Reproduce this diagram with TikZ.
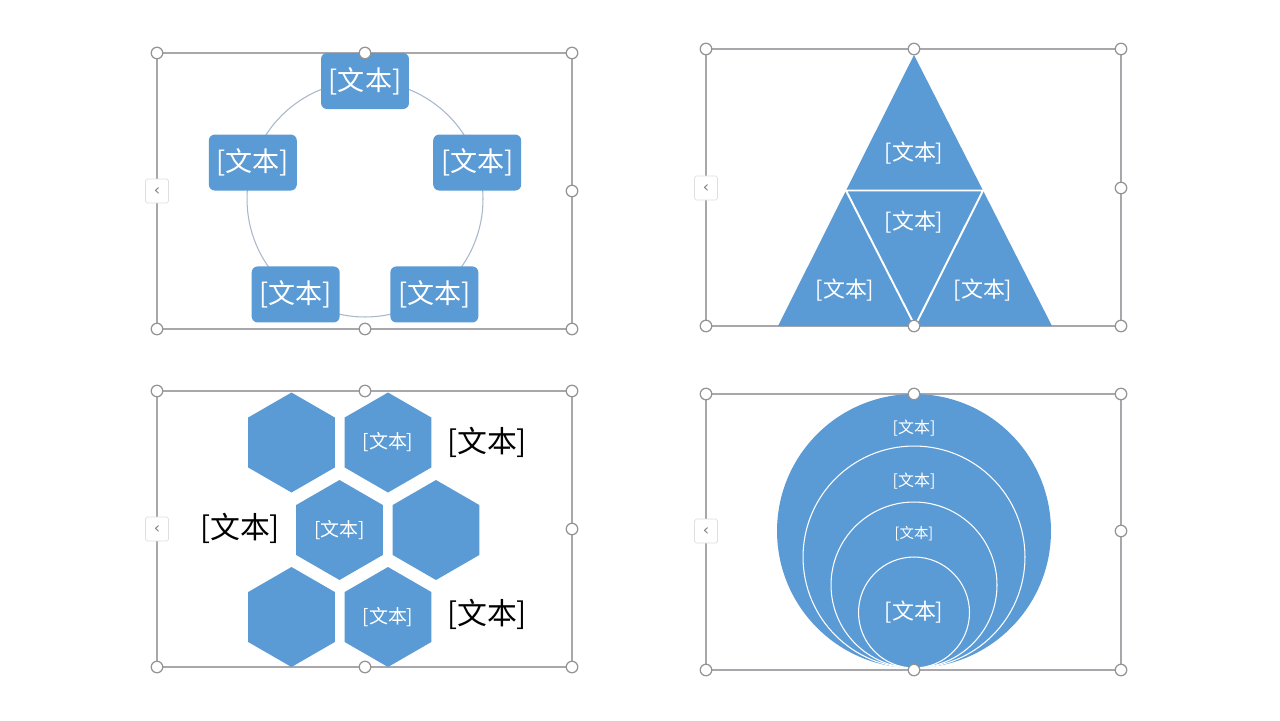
\documentclass[tikz,border=0pt]{standalone}
\usepackage{fontspec}
\newfontfamily\cjk{Noto Sans CJK SC}
\newfontfamily\djv{DejaVu Sans}
\usetikzlibrary{shapes.geometric}
\definecolor{sblue}{RGB}{91,155,213}
\definecolor{framegray}{RGB}{168,168,172}
\definecolor{ringgray}{RGB}{168,184,204}
\tikzset{
  frame/.style   = {draw=framegray, line width=0.8pt},
  handle/.style  = {shape=circle, draw=gray!85, fill=white,
                    line width=0.7pt, minimum size=0.23cm, inner sep=0},
  tab/.style     = {shape=rectangle, rounded corners=1pt,
                    draw=gray!25, fill=white, text=gray,
                    minimum width=0.46cm, minimum height=0.48cm, inner sep=0,
                    font=\djv\fontsize{9}{9}\selectfont},
  cycbox/.style  = {shape=rectangle, rounded corners=0.12cm,
                    fill=sblue, text=white, align=center,
                    minimum width=1.76cm, minimum height=1.12cm, inner sep=0,
                    font=\cjk\fontsize{15.4}{18}\selectfont},
  trilabel/.style = {text=white, font=\cjk\fontsize{12.5}{15}\selectfont},
  hex/.style     = {shape=regular polygon, regular polygon sides=6,
                    shape border rotate=30, fill=sblue, text=white,
                    minimum size=2cm, inner sep=0,
                    font=\cjk\fontsize{10.8}{13}\selectfont},
  sidelabel/.style = {text=black, font=\cjk\fontsize{17}{20}\selectfont},
  ring/.style    = {shape=circle, draw=white, fill=sblue,
                    line width=0.6pt, inner sep=0},
  ringlabel/.style = {text=white, font=\cjk\fontsize{9.1}{11}\selectfont}
}
\begin{document}
\begin{tikzpicture}[x=0.02cm, y=-0.02cm]
\useasboundingbox (0,0) rectangle (1280,720);
\fill[white] (0,0) rectangle (1280,720);

% selection frames
\foreach \l/\t/\r/\b in {157/53/572/329, 706/49/1121/326,
                          157/391/572/667, 706/394/1121/670}
  \draw[frame] (\l,\t) rectangle (\r,\b);

% cycle
\coordinate (cyc) at (365,199);
\draw[ringgray, line width=0.6pt] (cyc) circle (2.36cm);
\node[cycbox] (cyctop)   at ([shift={(90:2.36cm)}]cyc)  {[文本]};
\node[cycbox] (cycleft)  at ([shift={(162:2.36cm)}]cyc) {[文本]};
\node[cycbox] (cycright) at ([shift={(18:2.36cm)}]cyc)  {[文本]};
\node[cycbox] (cycbl)    at ([shift={(234:2.36cm)}]cyc) {[文本]};
\node[cycbox] (cycbr)    at ([shift={(306:2.36cm)}]cyc) {[文本]};

% pyramid
\coordinate (apex) at (914,55);
\coordinate (baseL) at (778,326);
\coordinate (baseR) at (1052,326);
\coordinate (midL) at (846,190.5);
\coordinate (midR) at (983,190.5);
\coordinate (baseM) at (915,326);
\fill[sblue] (apex) -- (baseL) -- (baseR) -- cycle;
\draw[white, line width=1.1pt] (midL) -- (midR) -- (baseM) -- cycle;
\node[trilabel] (tritop) at (914,153) {[文本]};
\node[trilabel] (trimid) at (914,222) {[文本]};
\node[trilabel] (trileft) at (845,290) {[文本]};
\node[trilabel] (triright) at (983,290) {[文本]};

% hexagons
\node[hex] (hex1) at (291.5,442.5) {};
\node[hex] (hex2) at (388,442.5) {[文本]};
\node[hex] (hex3) at (339.5,530) {[文本]};
\node[hex] (hex4) at (436,530) {};
\node[hex] (hex5) at (291.5,617) {};
\node[hex] (hex6) at (388,617) {[文本]};
\node[sidelabel] (hexlab1) at (487,442) {[文本]};
\node[sidelabel] (hexlab2) at (240,528) {[文本]};
\node[sidelabel] (hexlab3) at (487,614) {[文本]};

% nested circles
\node[ring, draw=none, minimum size=5.48cm] (ring1) at (914,531) {};
\node[ring, minimum size=4.44cm] (ring2) at (914,557) {};
\node[ring, minimum size=3.32cm] (ring3) at (914,585) {};
\node[ring, minimum size=2.22cm] (ring4) at (914,612.5) {};
\node[ringlabel] (ringlab1) at (914,428) {[文本]};
\node[ringlabel] (ringlab2) at (914,481) {[文本]};
\node[ringlabel, font=\cjk\fontsize{8.2}{10}\selectfont] (ringlab3) at (914,534) {[文本]};
\node[trilabel] (ringlab4) at (914,612) {[文本]};

% handles
\foreach \l/\m/\r/\t/\c/\b/\p in {157/365/572/53/191/329/a,
      706/914/1121/49/188/326/b, 157/365/572/391/529/667/c,
      706/914/1121/394/531/670/d}{
  \node[tab] (tab\p) at (\l,\c) {‹};
  \foreach \x/\y/\k in {\l/\t/1, \m/\t/2, \r/\t/3, \r/\c/4,
                        \r/\b/5, \m/\b/6, \l/\b/7}
    \node[handle] (h\p\k) at (\x,\y) {};
}
\end{tikzpicture}
\end{document}
